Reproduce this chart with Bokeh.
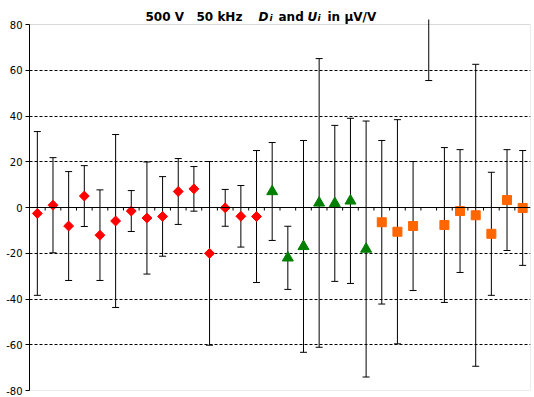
import numpy as np
from bokeh.plotting import figure
from bokeh.models import Range1d, FixedTicker, Span, Label, ColumnDataSource, BoxAnnotation
from bokeh.embed import file_html
from bokeh.resources import INLINE

# ---- data ----
n_labs = 32
red_D = [-2.6, 1.0, -8.1, 5.0, -12.1, -5.9, -1.55, -4.6, -3.9, 7.0, 8.15, -20.05, -0.15, -3.85, -3.95]
red_U = [35.8, 20.8, 23.8, 13.3, 19.8, 37.8, 8.95, 24.5, 17.4, 14.4, 9.75, 40.15, 8.05, 13.45, 28.85]
green_D = [7.0, -22.0, -17.0, 2.0, 1.8, 2.9, -18.15]
green_U = [21.4, 13.8, 46.3, 63.1, 34.1, 36.1, 55.95]
orange_D = [-6.45, -10.6, -8.1, 95.0, -7.65, -1.55, -3.4, -11.5, 3.25, -0.2]
orange_U = [35.75, 49.0, 28.2, 39.5, 33.85, 26.85, 66.0, 26.9, 22.05, 25.1]
y_ticks = [-80, -60, -40, -20, 0, 20, 40, 60, 80]
y_min, y_max = -80, 80

FONT = "DejaVu Sans"

# layout constants (pixels)
W, H = 531, 395
B_LEFT, B_RIGHT, B_TOP, B_BOTTOM = 29, 1, 0, 5
frame_w = W - B_LEFT - B_RIGHT
frame_h = H - B_TOP - B_BOTTOM
top_pad_px = 24            # plot area starts this far below the frame top (room for title)
cat_px = 501.0 / n_labs    # category width in px
px_per_unit = (frame_h - top_pad_px) / (y_max - y_min)
x_end = frame_w / cat_px
y_top = y_max + top_pad_px / px_per_unit
err_clip = y_max + 5 / px_per_unit  # error bars may run a little past the plot area

p = figure(width=W, height=H, output_backend="svg", toolbar_location=None, title=None,
           x_range=Range1d(0, x_end), y_range=Range1d(y_min, y_top),
           x_axis_location=None, min_border_left=B_LEFT, min_border_right=B_RIGHT,
           min_border_top=B_TOP, min_border_bottom=B_BOTTOM)
p.background_fill_color = "white"
p.border_fill_color = "white"
p.outline_line_color = None

# plot-area border
p.add_layout(BoxAnnotation(left=0, right=x_end, bottom=y_min, top=y_max, fill_color=None,
                           line_color="#808080", line_width=1, level="underlay"))

# grid
p.xgrid.visible = False
p.ygrid.ticker = FixedTicker(ticks=[t for t in y_ticks if t not in (y_min, 0, y_max)])
p.ygrid.grid_line_color = "black"
p.ygrid.grid_line_dash = "3 2"
p.ygrid.grid_line_width = 1

# y axis
yax = p.yaxis[0]
yax.ticker = FixedTicker(ticks=y_ticks)
yax.bounds = (y_min, y_max)
yax.axis_line_color = "black"
yax.major_tick_line_color = "black"
yax.major_tick_out = 4
yax.major_tick_in = 0
yax.minor_tick_line_color = None
yax.major_label_text_font = FONT
yax.major_label_text_font_size = "10px"
yax.major_label_text_color = "black"
yax.major_label_standoff = 3
yax.major_label_overrides = {t: str(t) for t in y_ticks}

# zero line with category tick marks
p.add_layout(Span(location=0, dimension="width", line_color="black", line_width=1))
bounds = np.arange(1, n_labs)
tick_len = 3 / px_per_unit
p.segment(x0=bounds, y0=np.zeros(len(bounds)), x1=bounds, y1=-tick_len * np.ones(len(bounds)),
          line_color="black", line_width=1)

series = [
    (red_D, red_U, 0, dict(marker="square", size=7, angle=np.pi / 4, fill_color="#FF0000", line_color="#FF0000")),
    (green_D, green_U, len(red_D), dict(marker="triangle", size=11, fill_color="#008000", line_color="#008000")),
    (orange_D, orange_U, len(red_D) + len(green_D), dict(marker="square", size=9, fill_color="#FF6600", line_color="#FF6600")),
]

for D, U, start, style in series:
    D = np.array(D); U = np.array(U)
    x = np.arange(start, start + len(D)) + 0.5
    lo, hi = D - U, D + U
    src = ColumnDataSource(dict(x=x, lo=lo, hi=hi, hi_line=np.minimum(hi, err_clip)))
    p.segment(x0="x", y0="lo", x1="x", y1="hi_line", source=src, line_color="black", line_width=1)
    cap_lo = ColumnDataSource(dict(x=x[lo <= y_max], y=lo[lo <= y_max]))
    cap_hi = ColumnDataSource(dict(x=x[hi <= y_max], y=hi[hi <= y_max]))
    p.scatter(x="x", y="y", source=cap_lo, marker="dash", size=7, line_color="black", line_width=1)
    p.scatter(x="x", y="y", source=cap_hi, marker="dash", size=7, line_color="black", line_width=1)

for D, U, start, style in series:
    D = np.array(D)
    x = np.arange(start, start + len(D)) + 0.5
    keep = D <= y_max
    p.scatter(x=x[keep], y=D[keep], **style)

# title pieces: (text, left px, style, size, baseline drop px)
title_baseline_px = 16
pieces = [
    ("500 V", 145, "bold", "12px", 0),
    ("50 kHz", 196, "bold", "12px", 0),
    ("D", 258, "bold italic", "12px", 0),
    ("i", 269, "bold italic", "9px", 1),
    ("and", 278, "bold", "12px", 0),
    ("U", 307, "bold italic", "12px", 0),
    ("i", 317, "bold italic", "9px", 1),
    ("in", 327, "bold", "12px", 0),
    ("µV/V", 344, "bold", "12px", 0),
]
for txt, px, style, size, dy in pieces:
    xd = (px - B_LEFT) / cat_px
    yd = y_max + (top_pad_px - title_baseline_px - dy) / px_per_unit
    p.add_layout(Label(x=xd, y=yd, text=txt, text_font=FONT, text_font_style=style,
                       text_font_size=size, text_color="black", text_baseline="alphabetic",
                       text_align="left"))

open("out.html", "w").write(file_html(p, INLINE))
